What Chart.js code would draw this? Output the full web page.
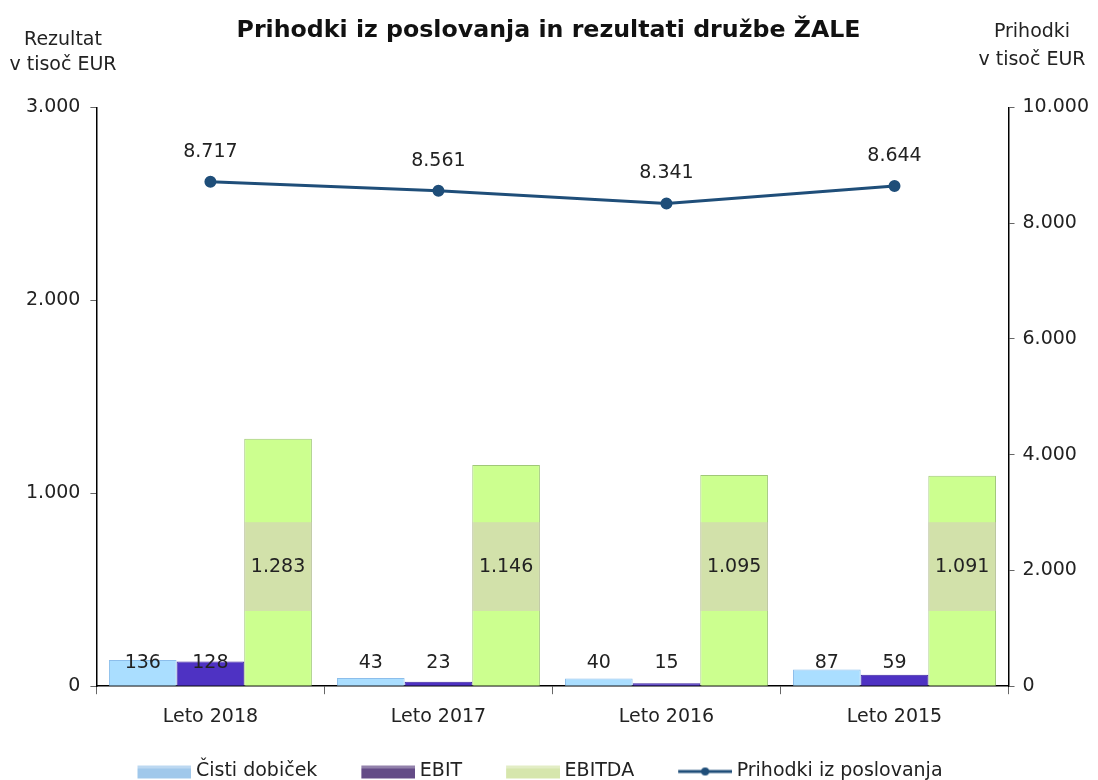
<!DOCTYPE html>
<html>
<head>
<meta charset="utf-8">
<script src="https://cdn.jsdelivr.net/npm/chart.js@4.4.1/dist/chart.umd.min.js"></script>
<style>
  html, body { margin: 0; padding: 0; background: #fff; }
  #wrap { width: 1098px; height: 780px; }
</style>
</head>
<body>
<div id="wrap"><canvas id="myChart" width="1098" height="780"></canvas></div>
<script>
const FONT = "'DejaVu Sans', sans-serif";

// podatki
const labels = ['Leto 2018', 'Leto 2017', 'Leto 2016', 'Leto 2015'];
const cistiDobicek = [136, 43, 40, 87];
const ebit = [128, 23, 15, 59];
const ebitda = [1283, 1146, 1095, 1091];
const prihodki = [8717, 8561, 8341, 8644];

const fmt = v => Math.round(v).toString().replace(/\B(?=(\d{3})+(?!\d))/g, '.');

// legend swatches: slika je širša od okvirja, vzorec je na desni
const SW = 54, BOXW = 70, IMGW = BOXW + 10;
function swatch(kind, fill) {
  const c = document.createElement('canvas');
  c.width = IMGW; c.height = 16;
  const g = c.getContext('2d');
  const x0 = IMGW - SW;
  if (kind === 'line') {
    g.strokeStyle = fill; g.lineWidth = 3;
    g.beginPath(); g.moveTo(x0, 8); g.lineTo(IMGW, 8); g.stroke();
    g.fillStyle = fill; g.beginPath(); g.arc(x0 + SW / 2, 8, 4, 0, Math.PI * 2); g.fill();
  } else {
    g.fillStyle = fill; g.fillRect(x0, 2, SW, 13);
    g.fillStyle = 'rgba(255,255,255,0.3)'; g.fillRect(x0, 2, SW, 3);
  }
  return c;
}

const data = {
  labels: labels,
  datasets: [{
    type: 'line',
    label: 'Prihodki iz poslovanja',
    data: prihodki,
    yAxisID: 'y1',
    borderColor: 'rgb(31,78,121)',
    backgroundColor: 'rgb(31,78,121)',
    borderWidth: 3,
    pointRadius: 4.5,
    pointHoverRadius: 4.5,
    tension: 0,
    order: 0
  }, {
    label: 'Čisti dobiček',
    data: cistiDobicek,
    backgroundColor: 'rgb(170,222,255)',
    borderColor: 'rgb(140,190,235)',
    borderWidth: 1,
    yAxisID: 'y',
    order: 1
  }, {
    label: 'EBIT',
    data: ebit,
    backgroundColor: 'rgb(78,50,195)',
    borderColor: 'rgb(60,35,160)',
    borderWidth: 1,
    yAxisID: 'y',
    order: 1
  }, {
    label: 'EBITDA',
    data: ebitda,
    backgroundColor: 'rgb(204,255,143)',
    borderColor: 'rgb(160,200,120)',
    borderWidth: 1,
    yAxisID: 'y',
    order: 1
  }]
};

const legendSwatches = {
  'Čisti dobiček': swatch('box', 'rgb(160,200,235)'),
  'EBIT': swatch('box', 'rgb(100,75,135)'),
  'EBITDA': swatch('box', 'rgb(214,230,172)'),
  'Prihodki iz poslovanja': swatch('line', 'rgb(31,78,121)')
};

// legenda in naslov v izvirniku nista čisto na sredini
const shiftPlugin = {
  id: 'shiftPlugin',
  afterLayout(chart) {
    chart.legend.left -= 27; chart.legend.right -= 27;
    chart.titleBlock.left -= 8; chart.titleBlock.right -= 8;
  }
};

// napisi vrednosti + naslovi osi
const labelsPlugin = {
  id: 'labelsPlugin',
  afterDatasetsDraw(chart) {
    const ctx = chart.ctx;
    const ys = chart.scales.y;
    ctx.save();
    ctx.font = '19px ' + FONT;
    ctx.fillStyle = '#222';
    ctx.textAlign = 'center';
    ctx.textBaseline = 'middle';
    // majhni stolpci
    [1, 2].forEach(di => {
      chart.getDatasetMeta(di).data.forEach((bar, i) => {
        ctx.fillText(fmt(chart.data.datasets[di].data[i]), bar.x, ys.getPixelForValue(0) - 23);
      });
    });
    // EBITDA s sivim ozadjem
    chart.getDatasetMeta(3).data.forEach((bar, i) => {
      const top = ys.getPixelForValue(850), bot = ys.getPixelForValue(390);
      ctx.fillStyle = 'rgba(216,195,197,0.5)';
      ctx.fillRect(bar.x - bar.width / 2, top, bar.width, bot - top);
      ctx.fillStyle = '#222';
      ctx.fillText(fmt(chart.data.datasets[3].data[i]), bar.x, (top + bot) / 2);
    });
    // linija
    chart.getDatasetMeta(0).data.forEach((pt, i) => {
      ctx.fillText(fmt(chart.data.datasets[0].data[i]), pt.x, pt.y - 30);
    });
    // naslovi osi
    ctx.fillText('Rezultat', 63, 40);
    ctx.fillText('v tisoč EUR', 63, 65);
    ctx.fillText('Prihodki', 1032, 32);
    ctx.fillText('v tisoč EUR', 1032, 60);
    ctx.restore();
  }
};

const config = {
  type: 'bar',
  data: data,
  plugins: [shiftPlugin, labelsPlugin],
  options: {
    responsive: false,
    animation: false,
    layout: { padding: { left: 16, right: 1, top: 0, bottom: -11 } },
    datasets: { bar: { categoryPercentage: 0.89, barPercentage: 1.0 } },
    plugins: {
      title: {
        display: true,
        text: 'Prihodki iz poslovanja in rezultati družbe ŽALE',
        color: '#111',
        font: { family: FONT, size: 23.7, weight: 'bold' },
        padding: { top: 17, bottom: 62 }
      },
      legend: {
        position: 'bottom',
        labels: {
          color: '#222',
          font: { family: FONT, size: 19 },
          usePointStyle: true,
          pointStyleWidth: BOXW,
          boxHeight: 16,
          padding: 23,
          generateLabels(chart) {
            const order = [1, 2, 3, 0];
            return order.map(i => ({
              text: chart.data.datasets[i].label,
              pointStyle: legendSwatches[chart.data.datasets[i].label],
              datasetIndex: i,
              fontColor: '#222',
              lineWidth: 0,
              hidden: false
            }));
          }
        }
      },
      tooltip: { enabled: false }
    },
    scales: {
      x: {
        grid: { display: true, drawOnChartArea: false, offset: true, tickLength: 8, color: '#666' },
        border: { color: '#000', width: 1.5 },
        ticks: { color: '#222', font: { family: FONT, size: 19 }, padding: 11 }
      },
      y: {
        position: 'left',
        min: 0, max: 3000,
        ticks: { stepSize: 1000, color: '#222', font: { family: FONT, size: 19 }, padding: 10, callback: v => fmt(v) },
        grid: { drawOnChartArea: false, tickLength: 6, color: '#666' },
        border: { color: '#000', width: 1.5 }
      },
      y1: {
        position: 'right',
        min: 0, max: 10000,
        ticks: { stepSize: 2000, color: '#222', font: { family: FONT, size: 19 }, padding: 8, callback: v => fmt(v) },
        grid: { drawOnChartArea: false, tickLength: 6, color: '#666' },
        border: { color: '#000', width: 1.5 }
      }
    }
  }
};

const myChart = new Chart(document.getElementById('myChart'), config);
</script>
</body>
</html>
